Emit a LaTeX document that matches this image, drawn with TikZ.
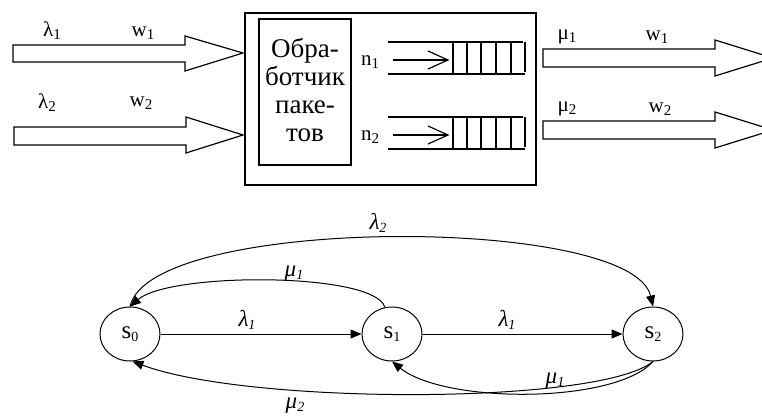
\documentclass[tikz,border=0pt]{standalone}
\usepackage{fontspec}
\setmainfont{Liberation Serif}
\usetikzlibrary{arrows.meta,shapes.geometric}
\newcommand\lowidx[2][15]{\raisebox{-3pt}{\fontsize{#1}{#1}\selectfont #2}}
\begin{document}
\begin{tikzpicture}[x=1pt,y=-1pt,
  ln/.style={line width=1.2pt},
  blockarrow/.style={line width=1.2pt, draw=black, fill=white},
  lbl/.style={inner sep=0pt, font=\fontsize{21}{21}\selectfont},
  glbl/.style={inner sep=0pt, font=\fontsize{23}{23}\selectfont\itshape},
  state/.style={ellipse, draw, line width=1pt, minimum width=60pt, minimum height=54pt, inner sep=0pt, font=\fontsize{25}{25}\selectfont},
  edge/.style={line width=1pt, -{Triangle[length=11pt,width=9pt]}}
]
\useasboundingbox (0,0) rectangle (762,417);
\clip (0,0) rectangle (762,417);
% input block arrows
\draw[blockarrow] (13,45) -- (185,45) -- (185,36) -- (243,53) -- (185,71) -- (185,62) -- (13,62) -- cycle;
\draw[blockarrow] (14,127) -- (186,127) -- (186,117) -- (243,135) -- (186,153) -- (186,145) -- (14,145) -- cycle;
% output block arrows
\draw[blockarrow] (543,49) -- (715,49) -- (715,40) -- (773,58) -- (715,76) -- (715,67) -- (543,67) -- cycle;
\draw[blockarrow] (543,121) -- (715,121) -- (715,112) -- (773,130) -- (715,148) -- (715,139) -- (543,139) -- cycle;
% labels of block arrows
\node[lbl] (la1) at (52,31) {λ\lowidx{1}};
\node[lbl] (wi1) at (143,33) {w\lowidx{1}};
\node[lbl] (la2) at (47,103) {λ\lowidx{2}};
\node[lbl] (wi2) at (141,103) {w\lowidx{2}};
\node[lbl] (mu1) at (567,37) {μ\lowidx{1}};
\node[lbl] (wo1) at (657,37) {w\lowidx{1}};
\node[lbl] (mu2) at (567,109) {μ\lowidx{2}};
\node[lbl] (wo2) at (660,109) {w\lowidx{2}};
% main box
\draw[ln] (245,13) rectangle (536,185);
\draw[ln] (259,19) rectangle (351,165);
\node[inner sep=0pt, align=center, font=\fontsize{27}{27.7}\selectfont] (proc) at (305,90) {Обра-\\ботчик\\паке-\\тов};
\node[lbl] (n1) at (370,62) {n\lowidx{1}};
\node[lbl] (n2) at (370,137) {n\lowidx{2}};
% queues
\foreach \dy in {0,75} {
  \begin{scope}[yshift=-\dy pt]
  \draw[ln] (388,42) -- (523,42);
  \draw[ln] (388,74) -- (525,74);
  \draw[ln] (393,60) -- (448,60);
  \draw[ln] (428,51) -- (448,60) -- (428,69);
  \foreach \xx in {453,467,481,496,511} \draw[ln] (\xx,42) -- (\xx,74);
  \draw[ln] (525,42) -- (525,72);
  \end{scope}
}
% state graph
\node[state] (s0) at (130,334) {s\lowidx[14]{0}};
\node[state] (s1) at (392,334) {s\lowidx[14]{1}};
\node[state] (s2) at (653,334) {s\lowidx[14]{2}};
\draw[edge] (s0) -- (s1);
\draw[edge] (s1) -- (s2);
\draw[edge] (s0.north) .. controls (150,215) and (632,215) .. (s2.north);
\draw[edge] (s1.105) .. controls (375,272) and (170,272) .. (s0.north);
\draw[edge] (s2.south) .. controls (600,405) and (250,405) .. (s0.-85);
\draw[edge] (s2.south) .. controls (615,404) and (445,404) .. (s1.south);
\node[glbl] (gl1) at (247,320) {λ\lowidx[14]{1}};
\node[glbl] (gl2) at (507,320) {λ\lowidx[14]{1}};
\node[glbl] (gl3) at (378,223) {λ\lowidx[14]{2}};
\node[glbl] (gm1) at (294,274) {μ\lowidx[14]{1}};
\node[glbl] (gm2) at (295,406) {μ\lowidx[14]{2}};
\node[glbl] (gm3) at (555,381) {μ\lowidx[14]{1}};
\end{tikzpicture}
\end{document}
